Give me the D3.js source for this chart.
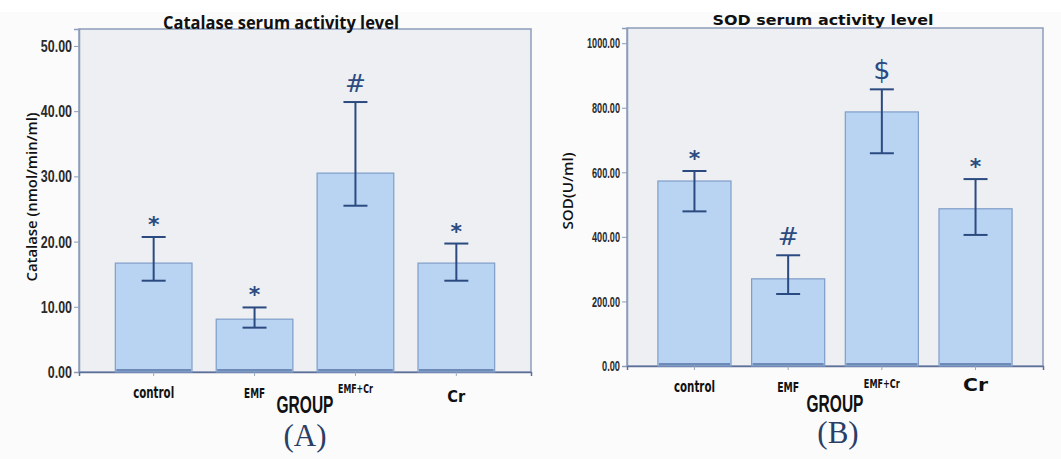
<!DOCTYPE html>
<html>
<head>
<meta charset="utf-8">
<script src="https://cdn.jsdelivr.net/npm/d3@7"></script>
<style>
  html, body { margin: 0; padding: 0; background: #fbfbfb; }
  svg { display: block; }
</style>
</head>
<body>
<svg id="chart" width="1061" height="459"></svg>
<script>
// ---------- DATA ----------
const groups = ["control", "EMF", "EMF+Cr", "Cr"];

const catalaseMean  = [16.7, 8.1, 30.5, 16.7];
const catalaseUpper = [20.7, 9.9, 41.4, 19.7];
const catalaseLower = [14.0, 6.8, 25.5, 14.0];
const catalaseMarks = ["*", "*", "#", "*"];
const catalaseTicks = [0, 10, 20, 30, 40, 50];

const sodMean  = [573, 270, 787, 487];
const sodUpper = [604, 343, 857, 579];
const sodLower = [479, 223, 659, 406];
const sodMarks = ["*", "#", "$", "*"];
const sodTicks = [0, 200, 400, 600, 800, 1000];

// ---------- LAYOUT / STYLE ----------
const svg = d3.select("#chart");
svg.append("rect").attr("x", 0).attr("y", 0).attr("width", 1061).attr("height", 12).attr("fill", "#ffffff");

const navy = "#2b4a80";
const barFill = "#b9d4f3";
const barStroke = "#7f9dc8";
const frameColor = "#8d9dba";

// place a text at (x,y) and squeeze it horizontally to a given width
function fitText(sel, x, y, width) {
  sel.each(function(d, i) {
    const node = this;
    const xx = typeof x === "function" ? x(d, i) : x;
    const yy = typeof y === "function" ? y(d, i) : y;
    const w = typeof width === "function" ? width(d, i) : width;
    const natural = node.getComputedTextLength();
    const k = natural > 0 ? w / natural : 1;
    d3.select(node).attr("x", 0).attr("y", 0)
      .attr("transform", `translate(${xx},${yy}) scale(${k},1)`);
  });
}

const panels = [
  {
    title: "Catalase serum activity level", titleX: 281, titleY: 29, titleLen: 236, titleFont: "'Open Sans', sans-serif", titleSize: 17,
    ylabel: "Catalase (nmol/min/ml)", ylabelX: 37, ylabelY: 197, ylabelSize: 15, ylabelLen: 169,
    left: 79, right: 531, top: 29, bottom: 372, yMax: 52.6,
    mean: catalaseMean, upper: catalaseUpper, lower: catalaseLower, marks: catalaseMarks, ticks: catalaseTicks,
    tickSize: 16, digitW: 6.9, dotW: 3.6, padInner: 0.24, padOuter: 0.36,
    groupX: 305, groupY: 413, letter: "(A)", letterX: 305, letterY: 446,
    xlab: [ {size: 15, dy: 26, len: 41},
            {size: 13.5, dy: 26, len: 21},
            {size: 12.5, dy: 21, len: 35},
            {size: 16, dy: 30, len: 18} ]
  },
  {
    title: "SOD serum activity level", titleX: 823, titleY: 25, titleLen: 221, titleFont: "'DejaVu Sans', sans-serif", titleSize: 14,
    ylabel: "SOD(U/ml)", ylabelX: 573, ylabelY: 191, ylabelSize: 15, ylabelLen: 77,
    left: 627, right: 1043, top: 28, bottom: 366, yMax: 1047,
    mean: sodMean, upper: sodUpper, lower: sodLower, marks: sodMarks, ticks: sodTicks,
    tickSize: 14, digitW: 5.0, dotW: 3.0, padInner: 0.22, padOuter: 0.33,
    groupX: 835, groupY: 412, letter: "(B)", letterX: 838, letterY: 443,
    xlab: [ {size: 15, dy: 26, len: 41},
            {size: 13.5, dy: 26, len: 22},
            {size: 12.5, dy: 22, len: 36},
            {size: 17, dy: 25, len: 25} ]
  }
];

panels.forEach(p => {
  const g = svg.append("g");
  const x = d3.scaleBand().domain(groups).range([p.left, p.right])
    .paddingInner(p.padInner).paddingOuter(p.padOuter);
  const y = d3.scaleLinear().domain([0, p.yMax]).range([p.bottom, p.top]);

  // plot background + frame
  g.append("rect")
    .attr("x", p.left).attr("y", p.top)
    .attr("width", p.right - p.left).attr("height", p.bottom - p.top)
    .attr("fill", "#edeff2").attr("stroke", frameColor).attr("stroke-width", 1.5);

  // y axis
  const fmt = d3.format(".2f");
  const yAxis = d3.axisLeft(y).tickValues(p.ticks).tickFormat(fmt).tickSize(5).tickPadding(2);
  const ya = g.append("g").attr("transform", `translate(${p.left},0)`).call(yAxis);
  ya.select(".domain").attr("stroke", frameColor).attr("stroke-width", 1.5);
  ya.selectAll(".tick line").attr("stroke", frameColor);
  ya.selectAll(".tick text")
    .attr("font-family", "'Liberation Sans', sans-serif")
    .attr("font-weight", "bold")
    .attr("font-size", p.tickSize).attr("fill", "#2a2a2a")
    .attr("dy", "0.34em");
  fitText(ya.selectAll(".tick text"), -7, 0, d => { const s = fmt(d); return (s.length - 1) * p.digitW + p.dotW; });

  // x axis
  const xAxis = d3.axisBottom(x).tickSize(4).tickFormat("");
  const xa = g.append("g").attr("transform", `translate(0,${p.bottom})`).call(xAxis);
  xa.select(".domain").attr("stroke", "#5c6f98").attr("stroke-width", 1.5);
  xa.selectAll(".tick line").attr("stroke", "#9aa6bd");

  // bars
  const rows = groups.map((gname, i) => ({ g: gname, m: p.mean[i], u: p.upper[i], l: p.lower[i], mk: p.marks[i], lab: p.xlab[i] }));

  g.selectAll(".bar").data(rows).enter().append("rect")
    .attr("x", d => x(d.g)).attr("y", d => y(d.m))
    .attr("width", x.bandwidth()).attr("height", d => y(0) - y(d.m))
    .attr("fill", barFill).attr("stroke", barStroke).attr("stroke-width", 1.2);

  // dark strip at bar base
  g.selectAll(".base").data(rows).enter().append("rect")
    .attr("x", d => x(d.g) + 1).attr("y", y(0) - 3)
    .attr("width", x.bandwidth() - 2).attr("height", 2.5)
    .attr("fill", "#5b77a8").attr("opacity", 0.8);

  // error bars
  const cx = d => x(d.g) + x.bandwidth() / 2;
  const cap = 12;
  g.selectAll(".err").data(rows).enter().append("line")
    .attr("x1", cx).attr("x2", cx).attr("y1", d => y(d.u)).attr("y2", d => y(d.l))
    .attr("stroke", navy).attr("stroke-width", 2);
  g.selectAll(".capu").data(rows).enter().append("line")
    .attr("x1", d => cx(d) - cap).attr("x2", d => cx(d) + cap)
    .attr("y1", d => y(d.u)).attr("y2", d => y(d.u))
    .attr("stroke", navy).attr("stroke-width", 2);
  g.selectAll(".capl").data(rows).enter().append("line")
    .attr("x1", d => cx(d) - cap).attr("x2", d => cx(d) + cap)
    .attr("y1", d => y(d.l)).attr("y2", d => y(d.l))
    .attr("stroke", navy).attr("stroke-width", 2);

  // significance marks
  g.selectAll(".mark").data(rows).enter().append("text")
    .attr("x", cx)
    .attr("y", d => d.mk === "*" ? y(d.u) - 5 : y(d.u) - 10)
    .attr("text-anchor", "middle")
    .attr("font-family", "'DejaVu Sans', sans-serif")
    .attr("font-weight", d => d.mk === "*" ? "bold" : "normal")
    .attr("font-size", d => d.mk === "*" ? 22 : (d.mk === "$" ? 27 : 25))
    .attr("fill", navy)
    .text(d => d.mk);

  // category labels
  const xl = g.selectAll(".xlab").data(rows).enter().append("text")
    .attr("text-anchor", "middle")
    .attr("font-family", "'DejaVu Sans', sans-serif").attr("font-weight", "bold")
    .attr("font-size", d => d.lab.size).attr("fill", "#111")
    .text(d => d.g);
  fitText(xl, cx, d => p.bottom + d.lab.dy, d => d.lab.len);

  // title
  g.append("text").attr("x", p.titleX).attr("y", p.titleY).attr("text-anchor", "middle")
    .attr("font-family", p.titleFont).attr("font-weight", "bold").attr("font-size", p.titleSize)
    .attr("textLength", p.titleLen).attr("lengthAdjust", "spacingAndGlyphs")
    .attr("fill", "#111").text(p.title);

  // y label
  g.append("text").attr("transform", `translate(${p.ylabelX},${p.ylabelY}) rotate(-90)`)
    .attr("text-anchor", "middle")
    .attr("font-family", "'Open Sans', sans-serif").attr("font-weight", 600).attr("font-size", p.ylabelSize)
    .attr("textLength", p.ylabelLen).attr("lengthAdjust", "spacingAndGlyphs")
    .attr("fill", "#111").text(p.ylabel);

  // GROUP
  const gr = g.append("text").attr("text-anchor", "middle")
    .attr("font-family", "'Liberation Sans', sans-serif").attr("font-weight", "bold").attr("font-size", 24)
    .attr("fill", "#111").text("GROUP");
  fitText(gr, p.groupX, p.groupY, 57);

  // panel letter
  g.append("text").attr("x", p.letterX).attr("y", p.letterY).attr("text-anchor", "middle")
    .attr("font-family", "'Liberation Serif', serif").attr("font-size", 31)
    .attr("fill", "#2a3e66").text(p.letter);
});
</script>
</body>
</html>
